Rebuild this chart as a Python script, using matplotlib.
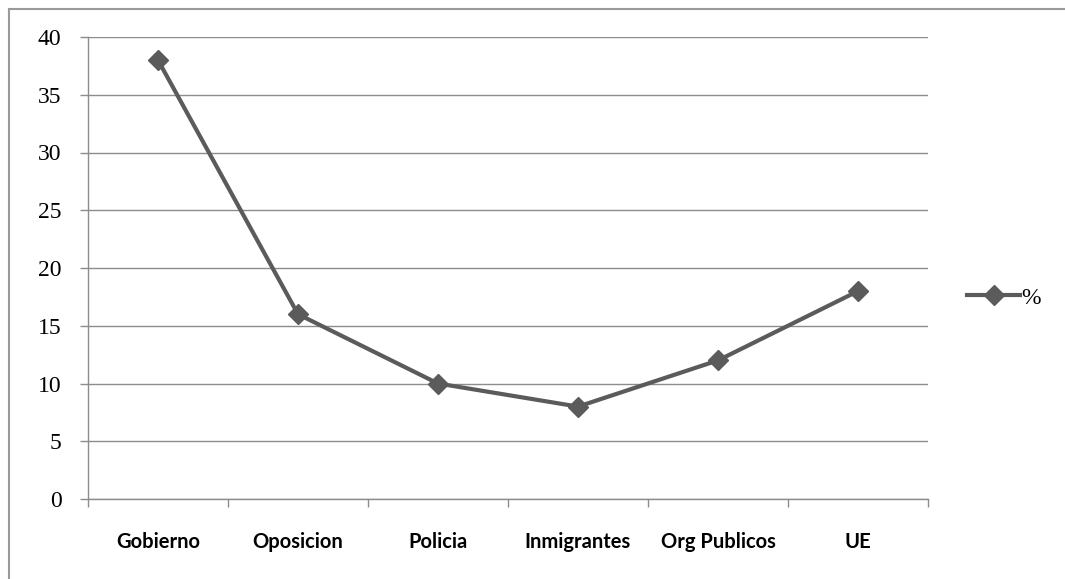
import matplotlib
matplotlib.use("Agg")
import matplotlib.pyplot as plt
from matplotlib.lines import Line2D
import numpy as np

categories = ["Gobierno", "Oposicion", "Policia", "Inmigrantes", "Org Publicos", "UE"]
values = [38, 16, 10, 8, 12, 18]
series_name = "%"
yticks = [0, 5, 10, 15, 20, 25, 30, 35, 40]

W, H = 1065, 579
fig = plt.figure(figsize=(W / 100, H / 100), dpi=100)
ax = fig.add_axes([88 / W, (H - 499) / H, 840 / W, 462 / H])

x = np.arange(len(categories))
line_color = "#5b5b5b"
grid_color = "#8c8c8c"
ax.plot(x, values, color=line_color, lw=3.0, marker="D", markersize=10.5,
        markerfacecolor=line_color, markeredgecolor=line_color, label=series_name,
        solid_joinstyle="round", zorder=3)

ax.set_xlim(-0.5, len(categories) - 0.5)
ax.set_ylim(0, 40)
ax.set_yticks(yticks)
ax.set_yticklabels([str(v) for v in yticks], fontfamily="Liberation Serif",
                   fontsize=17)
ax.set_xticks(x)
ax.set_xticklabels(categories, fontfamily="Lato", fontweight="bold", fontsize=14.5)
ax.set_xticks(np.arange(len(categories) + 1) - 0.5, minor=True)

ax.yaxis.grid(True, color=grid_color, lw=1.0)
ax.set_axisbelow(True)
ax.tick_params(axis="y", which="major", length=6, width=1, color=grid_color, pad=13)
ax.tick_params(axis="x", which="major", length=0, pad=24)
ax.tick_params(axis="x", which="minor", length=6, width=1, color=grid_color)

for s in ["top", "right"]:
    ax.spines[s].set_visible(False)
for s in ["left", "bottom"]:
    ax.spines[s].set_color(grid_color)
    ax.spines[s].set_linewidth(1.0)

leg = ax.legend(loc="center left", bbox_to_anchor=(946 / W, (H - 298) / H),
                bbox_transform=fig.transFigure, frameon=False, handlelength=2.25,
                handletextpad=0.05, prop={"family": "Liberation Serif", "size": 17})

# outer chart border (cropped: only left and top visible)
fig.add_artist(Line2D([8.5 / W, 8.5 / W], [0, 1 - 9 / H], transform=fig.transFigure,
                      color="#9a9a9a", lw=1.5))
fig.add_artist(Line2D([8.5 / W, 1], [1 - 9 / H, 1 - 9 / H], transform=fig.transFigure,
                      color="#9a9a9a", lw=1.5))

fig.savefig("out.png", dpi=100, facecolor="white")
